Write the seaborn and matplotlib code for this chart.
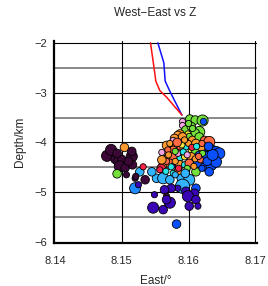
import pandas as pd
import matplotlib
matplotlib.use('Agg')
import matplotlib.pyplot as plt
import seaborn as sns

# velocity-model-ish profiles (east, depth)
blue_east = [8.1554, 8.1563, 8.1565, 8.1573, 8.1590]
blue_depth = [-2.0, -2.4, -2.77, -3.0, -3.45]
red_east = [8.1543, 8.1548, 8.1551, 8.1557, 8.1567, 8.1590]
red_depth = [-2.0, -2.47, -2.77, -2.96, -3.09, -3.45]

# events: east, depth, colour class, size class
ev_east = [8.1602, 8.1610, 8.1591, 8.1621, 8.1591, 8.1596, 8.1604, 8.1616, 8.1610, 8.1587,
           8.1599, 8.1584, 8.1579, 8.1601, 8.1591, 8.1594, 8.1606, 8.1616, 8.1624, 8.1631,
           8.1611, 8.1577, 8.1596, 8.1574, 8.1582, 8.1589, 8.1596, 8.1604, 8.1624, 8.1634,
           8.1641, 8.1611, 8.1619, 8.1587, 8.1577, 8.1567, 8.1564, 8.1569, 8.1577, 8.1587,
           8.1584, 8.1594, 8.1616, 8.1626, 8.1638, 8.1646, 8.1604, 8.1621, 8.1609, 8.1562,
           8.1559, 8.1572, 8.1579, 8.1587, 8.1594, 8.1601, 8.1614, 8.1624, 8.1634, 8.1641,
           8.1611, 8.1584, 8.1577, 8.1596, 8.1631, 8.1557, 8.1552, 8.1562, 8.1572, 8.1589,
           8.1601, 8.1591, 8.1611, 8.1609, 8.1596, 8.1584, 8.1574, 8.1564, 8.1549, 8.1567,
           8.1572, 8.1547, 8.1562, 8.1599, 8.1611, 8.1614, 8.1601, 8.1582, 8.1567, 8.1520,
           8.1525, 8.1527, 8.1545, 8.1532, 8.1535, 8.1520, 8.1478, 8.1484, 8.1490, 8.1496,
           8.1500, 8.1497, 8.1505, 8.1507, 8.1515, 8.1516, 8.1521, 8.1493, 8.1504, 8.1510,
           8.1493, 8.1515, 8.1572, 8.1569, 8.1580, 8.1592, 8.1600, 8.1605, 8.1598, 8.1610,
           8.1618, 8.1628, 8.1636, 8.1580, 8.1567, 8.1574, 8.1585, 8.1598, 8.1608, 8.1590,
           8.1620, 8.1630, 8.1612, 8.1560, 8.1560, 8.1606, 8.1594, 8.1615, 8.1620, 8.1580,
           8.1566, 8.1570, 8.1583, 8.1600, 8.1595]
ev_depth = [-3.53, -3.55, -3.58, -3.56, -3.66, -3.75, -3.68, -3.79, -3.81, -3.83,
            -3.83, -3.86, -3.92, -3.88, -3.89, -3.99, -3.96, -3.89, -3.96, -3.99,
            -4.02, -3.96, -3.99, -4.09, -4.09, -4.12, -4.09, -4.16, -4.12, -4.16,
            -4.19, -4.19, -4.09, -4.22, -4.16, -4.06, -4.26, -4.32, -4.29, -4.32,
            -4.22, -4.29, -4.26, -4.29, -4.32, -4.22, -4.29, -4.22, -4.36, -4.45,
            -4.52, -4.42, -4.45, -4.45, -4.45, -4.42, -4.42, -4.49, -4.45, -4.39,
            -4.59, -4.59, -4.62, -4.59, -4.59, -4.55, -4.72, -4.72, -4.75, -4.72,
            -4.75, -4.88, -4.92, -5.02, -4.98, -4.92, -4.92, -4.95, -5.05, -5.08,
            -5.21, -5.31, -5.35, -5.08, -5.15, -5.28, -5.28, -5.64, -5.15, -4.92,
            -4.85, -4.59, -4.59, -4.49, -4.75, -4.72, -4.27, -4.15, -4.34, -4.38,
            -4.34, -4.48, -4.51, -4.65, -4.28, -4.45, -4.68, -4.63, -4.10, -4.38,
            -4.22, -4.18, -4.02, -4.15, -4.18, -4.19, -4.02, -4.10, -4.25, -4.33,
            -4.35, -4.38, -4.25, -4.38, -4.38, -4.49, -4.52, -4.52, -4.48, -4.05,
            -4.02, -4.08, -4.08, -4.35, -4.20, -3.72, -3.95, -4.28, -4.52, -4.65,
            -4.58, -4.25, -4.00, -3.62, -4.62]
ev_col = ['green', 'green', 'pink', 'green', 'pink', 'green', 'green', 'green', 'green', 'orange',
          'yellow', 'orange', 'orange', 'green', 'orange', 'salmon', 'orange', 'green', 'salmon', 'salmon',
          'orange', 'pink', 'green', 'pink', 'orange', 'salmon', 'cyan', 'yellow', 'blue', 'blue',
          'blue', 'green', 'orange', 'salmon', 'salmon', 'orange', 'orange', 'orange', 'salmon', 'cyan',
          'pink', 'yellow', 'blue', 'blue', 'blue', 'blue', 'orange', 'green', 'cyan', 'orange',
          'red', 'salmon', 'indigo', 'orange', 'cyan', 'salmon', 'blue', 'blue', 'blue', 'blue',
          'green', 'orange', 'cyan', 'orange', 'blue', 'red', 'lblue', 'lblue', 'lblue', 'lblue',
          'lblue', 'lblue', 'blue', 'indigo', 'indigo', 'indigo', 'indigo', 'indigo', 'indigo', 'dpurple',
          'indigo', 'indigo', 'indigo', 'indigo', 'indigo', 'indigo', 'indigo', 'blue', 'indigo', 'mblue',
          'indigo', 'lblue', 'lblue', 'red', 'dpurple', 'dpurple', 'dpurple', 'dpurple', 'dpurple', 'dpurple',
          'dpurple', 'dpurple', 'dpurple', 'dpurple', 'dpurple', 'dpurple', 'dpurple', 'green', 'orange', 'dpurple',
          'dpurple', 'dpurple', 'orange', 'salmon', 'green', 'cyan', 'orange', 'red', 'pink', 'orange',
          'salmon', 'blue', 'blue', 'orange', 'salmon', 'cyan', 'red', 'green', 'orange', 'yellow',
          'salmon', 'blue', 'cyan', 'orange', 'pink', 'green', 'orange', 'salmon', 'blue', 'lblue',
          'cyan', 'orange', 'salmon', 'green', 'lblue']
ev_size = ['M', 'M', 'S', 'L', 'S', 'M', 'M', 'L', 'M', 'M',
           'S', 'M', 'M', 'S', 'M', 'M', 'M', 'M', 'M', 'L',
           'M', 'S', 'S', 'S', 'M', 'M', 'S', 'S', 'L', 'L',
           'L', 'M', 'M', 'M', 'M', 'M', 'M', 'M', 'M', 'S',
           'S', 'S', 'M', 'L', 'L', 'L', 'M', 'S', 'S', 'M',
           'M', 'M', 'S', 'M', 'S', 'M', 'M', 'M', 'L', 'L',
           'M', 'M', 'S', 'S', 'M', 'S', 'M', 'L', 'M', 'M',
           'L', 'XL', 'M', 'M', 'M', 'S', 'M', 'M', 'S', 'S',
           'L', 'L', 'M', 'L', 'M', 'S', 'M', 'M', 'M', 'L',
           'S', 'M', 'M', 'S', 'M', 'S', 'L', 'L', 'M', 'L',
           'M', 'L', 'M', 'S', 'L', 'M', 'S', 'M', 'M', 'M',
           'M', 'M', 'S', 'S', 'S', 'S', 'S', 'S', 'S', 'S',
           'S', 'M', 'L', 'S', 'S', 'S', 'S', 'S', 'S', 'S',
           'S', 'M', 'S', 'M', 'S', 'S', 'S', 'S', 'S', 'S',
           'S', 'S', 'M', 'S', 'M']

palette = {'green': '#74e03c', 'pink': '#f4a6e4', 'orange': '#ff9a30', 'yellow': '#f2e63a',
           'salmon': '#ff6a42', 'cyan': '#28e6e6', 'blue': '#0a50ff', 'red': '#ff2248',
           'indigo': '#3a06b4', 'lblue': '#34b4ff', 'mblue': '#1e8cff', 'dpurple': '#3c0838'}
sizes = {'S': 20, 'M': 38, 'L': 64, 'XL': 105}

df = pd.DataFrame({'East': ev_east, 'Depth': ev_depth, 'c': ev_col, 's': ev_size})

sns.set_theme(style='white')
plt.rcParams['font.family'] = ['Liberation Sans', 'DejaVu Sans']

fig = plt.figure(figsize=(2.68, 2.86), dpi=100)
ax = fig.add_axes([0.2026, 0.1503, 0.7552, 0.7052])

# grid
for yv in [-2.5, -3.5, -4.5, -5.5]:
    ax.axhline(yv, color='#808080', lw=1.3, zorder=0)
for yv in [-2, -3, -4, -5]:
    ax.axhline(yv, color='black', lw=0.8, zorder=0)
for xv in [8.15, 8.16, 8.17]:
    ax.axvline(xv, color='black', lw=0.8, zorder=0)

sns.lineplot(x=blue_east, y=blue_depth, sort=False, estimator=None, color='#1010ff', lw=1.1, ax=ax, zorder=2)
sns.lineplot(x=red_east, y=red_depth, sort=False, estimator=None, color='#ff1010', lw=1.1, ax=ax, zorder=2)

sns.scatterplot(data=df, x='East', y='Depth', hue='c', palette=palette, size='s', sizes=sizes,
                legend=False, edgecolor='black', linewidth=0.6, ax=ax, zorder=3)
# ring around the top-right event
ax.scatter([8.1621], [-3.56], s=22, color='#0a50ff', edgecolor='black', linewidth=0.5, zorder=4)

ax.set_xlim(8.1399, 8.1702)
ax.set_ylim(-6.02, -1.97)
ax.set_xticks([8.14, 8.15, 8.16, 8.17])
ax.set_xticklabels(['8.14', '8.15', '8.16', '8.17'])
ax.set_yticks([-6, -5, -4, -3, -2])
ax.tick_params(axis='both', direction='out', length=3.5, width=1, labelsize=8, color='black')
ax.tick_params(axis='x', pad=6)
ax.tick_params(axis='y', pad=2)
for side in ['top', 'right']:
    ax.spines[side].set_visible(False)
for side in ['left', 'bottom']:
    ax.spines[side].set_color('black')
    ax.spines[side].set_linewidth(1.6)

ax.set_xlabel('East/°', fontsize=8.5, labelpad=6)
ax.set_ylabel('Depth/km', fontsize=8.5, labelpad=6)
ax.set_title('West\u2212East vs Z', fontsize=8.5, pad=18)

fig.savefig('out.png', dpi=100)
